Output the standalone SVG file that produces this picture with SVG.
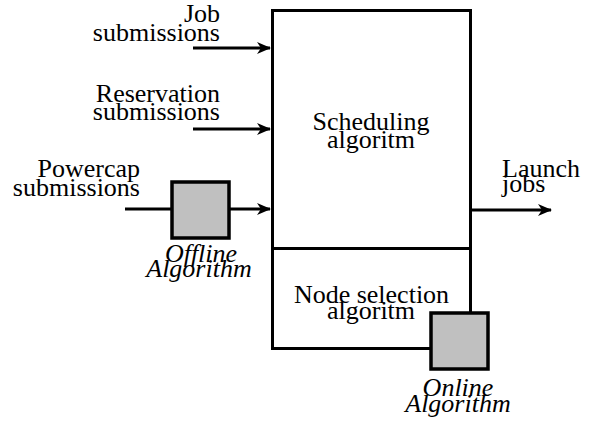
<svg xmlns="http://www.w3.org/2000/svg" width="593" height="424" viewBox="0 0 593 424">
<style>
.it{font-style:italic}
.box{fill:#fff;stroke:#000;stroke-width:3}
.gray{fill:#c0c0c0;stroke:#000;stroke-width:3.5}
.ln{stroke:#000;stroke-width:3;fill:none}
</style>
<defs>
<marker id="a" viewBox="0 0 14 12" refX="13" refY="6" markerWidth="14" markerHeight="12" markerUnits="userSpaceOnUse" orient="auto">
<path d="M0,0 L14,6 L0,12 L4,6 Z" fill="#000"/>
</marker>
</defs>
<g id="connectors">
<line class="ln" x1="193" y1="48" x2="270" y2="48" marker-end="url(#a)"/>
<line class="ln" x1="193" y1="129" x2="270" y2="129" marker-end="url(#a)"/>
<line class="ln" x1="125" y1="209" x2="270" y2="209" marker-end="url(#a)"/>
<line class="ln" x1="471" y1="210" x2="551" y2="210" marker-end="url(#a)"/>
</g>
<g id="scheduling" font-family="Liberation Serif" font-size="26">
<rect class="box" x="272.5" y="10.5" width="198" height="238"/>
<text x="371" y="130" text-anchor="middle">Scheduling</text>
<text x="371" y="148" text-anchor="middle">algoritm</text>
</g>
<g id="node-selection" font-family="Liberation Serif" font-size="26">
<rect class="box" x="272.5" y="248.5" width="198" height="100"/>
<text x="371.5" y="303" text-anchor="middle">Node selection</text>
<text x="371" y="319" text-anchor="middle">algoritm</text>
</g>
<g id="offline" font-family="Liberation Serif" font-size="26">
<rect class="gray" x="172" y="182" width="57" height="56"/>
<text class="it" x="201" y="262" text-anchor="middle">Offline</text>
<text class="it" x="199" y="277" text-anchor="middle">Algorithm</text>
</g>
<g id="online" font-family="Liberation Serif" font-size="26">
<rect class="gray" x="431" y="313" width="57" height="56"/>
<text class="it" x="458" y="396" text-anchor="middle">Online</text>
<text class="it" x="458" y="412" text-anchor="middle">Algorithm</text>
</g>
<g id="job-label" font-family="Liberation Serif" font-size="26">
<text x="220" y="22" text-anchor="end">Job</text>
<text x="220" y="41" text-anchor="end">submissions</text>
</g>
<g id="reservation-label" font-family="Liberation Serif" font-size="26">
<text x="220" y="102" text-anchor="end">Reservation</text>
<text x="220" y="120" text-anchor="end">submissions</text>
</g>
<g id="powercap-label" font-family="Liberation Serif" font-size="26">
<text x="140" y="177" text-anchor="end">Powercap</text>
<text x="140" y="196" text-anchor="end">submissions</text>
</g>
<g id="launch-label" font-family="Liberation Serif" font-size="26">
<text x="502" y="177">Launch</text>
<text x="502" y="192">jobs</text>
</g>
</svg>
